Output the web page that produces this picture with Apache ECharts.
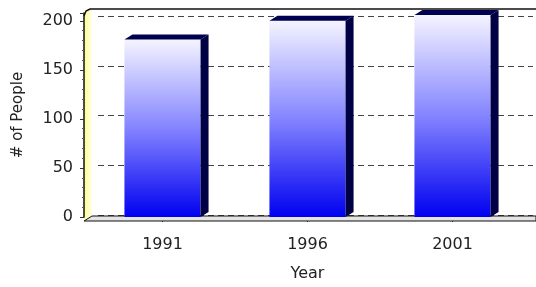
<!DOCTYPE html>
<html>
<head>
<meta charset="utf-8">
<script src="https://cdn.jsdelivr.net/npm/echarts@6/dist/echarts.min.js"></script>
<style>
  html, body { margin: 0; padding: 0; background: #fff; }
  #chart { width: 536px; height: 287px; }
</style>
</head>
<body>
<div id="chart"></div>
<script>
// 数据
const years = ['1991', '1996', '2001'];
const people = [181, 200, 206];
const yMin = 0;
const yMax = 208;      // 前面板的轴顶
const backMax = 200;   // 后墙网格线的顶
const yInterval = 50;

// 3D 深度偏移
const depthX = 8;
const depthY = -5;

const chart = echarts.init(document.getElementById('chart'), null, { renderer: 'canvas' });

const frontFill = new echarts.graphic.LinearGradient(0, 0, 0, 1, [
  { offset: 0, color: '#f4f4ff' },
  { offset: 0.5, color: '#8484ff' },
  { offset: 1, color: '#0000f0' }
]);

function renderBar(params, api) {
  const top = api.coord([api.value(0), api.value(1)]);
  const base = api.coord([api.value(0), 0]);
  const band = api.size([1, 0])[0];
  const w = band * 0.525;
  const L = top[0] - w / 2;
  const R = top[0] + w / 2;
  return {
    type: 'group',
    children: [
      {
        type: 'rect',
        shape: { x: L, y: top[1], width: w, height: base[1] - top[1] },
        style: { fill: frontFill }
      },
      {
        type: 'polygon',
        shape: { points: [[L, top[1]], [L + depthX, top[1] + depthY], [R + depthX, top[1] + depthY], [R, top[1]]] },
        style: { fill: '#000050' }
      },
      {
        type: 'polygon',
        shape: { points: [[R, top[1]], [R + depthX, top[1] + depthY], [R + depthX, base[1] + depthY], [R, base[1]]] },
        style: { fill: '#000044' }
      }
    ]
  };
}

const option = {
  backgroundColor: '#ffffff',
  animation: false,
  textStyle: { fontFamily: 'DejaVu Sans' },
  grid: [
    { left: 90, width: 435, top: 13, height: 207 },
    { left: 98, width: 435, top: 16, height: 199 }
  ],
  xAxis: [
    {
      type: 'category',
      gridIndex: 0,
      data: years,
      name: 'Year',
      nameLocation: 'middle',
      nameGap: 49,
      nameTextStyle: { fontSize: 16, color: '#222' },
      axisLine: { show: false },
      axisTick: { show: true, alignWithLabel: true, length: 5, lineStyle: { color: '#333' } },
      axisLabel: { fontSize: 16, color: '#222', margin: 20 }
    },
    {
      type: 'category',
      gridIndex: 1,
      data: years,
      show: false
    }
  ],
  yAxis: [
    {
      type: 'value',
      gridIndex: 0,
      min: yMin,
      max: yMax,
      interval: yInterval,
      offset: 6,
      name: '# of People',
      nameLocation: 'middle',
      nameGap: 58,
      nameTextStyle: { fontSize: 15, color: '#222' },
      axisLine: { show: true, lineStyle: { color: '#111', width: 1.5 } },
      axisTick: { show: true, length: 4, lineStyle: { color: '#333' } },
      minorTick: { show: true, splitNumber: 5, length: 2, lineStyle: { color: '#555' } },
      axisLabel: { fontSize: 16, color: '#222', margin: 11, showMaxLabel: false },
      splitLine: { show: false }
    },
    {
      type: 'value',
      gridIndex: 1,
      min: yMin,
      max: backMax,
      interval: yInterval,
      axisLine: { show: false },
      axisTick: { show: false },
      axisLabel: { show: false },
      splitLine: { show: true, lineStyle: { color: '#444', type: [6, 4], width: 1 } }
    }
  ],
  graphic: [
    {
      type: 'polygon', z: 0,
      shape: { points: [[84, 220], [84, 13], [92, 8], [92, 215]] },
      style: {
        fill: new echarts.graphic.LinearGradient(0, 0, 1, 0, [
          { offset: 0, color: '#ffff8c' },
          { offset: 1, color: '#ffffe6' }
        ])
      }
    },
    {
      type: 'polygon', z: 1,
      shape: { points: [[84, 221], [92, 216], [536, 216], [536, 221]] },
      style: { fill: '#e4e4e4', stroke: '#111', lineWidth: 1 }
    },
    {
      type: 'polyline', z: 1,
      shape: { points: [[84, 16], [86, 11], [90, 9], [536, 9]] },
      style: { stroke: '#111', lineWidth: 1.5, fill: null }
    }
  ],
  series: [
    {
      type: 'custom',
      xAxisIndex: 0,
      yAxisIndex: 0,
      clip: false,
      z: 5,
      renderItem: renderBar,
      data: years.map((y, i) => [i, people[i]])
    }
  ]
};

chart.setOption(option);
</script>
</body>
</html>
